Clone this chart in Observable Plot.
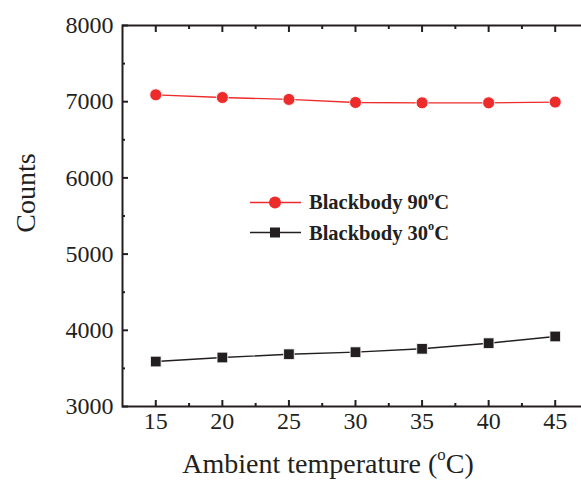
<!DOCTYPE html>
<html><head><meta charset="utf-8">
<script src="https://cdn.jsdelivr.net/npm/d3@7"></script>
<script src="https://cdn.jsdelivr.net/npm/@observablehq/plot@0.6"></script>
<style>
body{margin:0;background:#fff}
#wrap{position:relative;width:581px;height:480px;overflow:hidden;font-family:"Liberation Serif","Times New Roman",serif;color:#231f20}
#chart{position:absolute;left:0;top:0;width:600px}
#chart svg{max-width:none}
.ylab{position:absolute;left:26px;top:193px;transform:translate(-50%,-50%) rotate(-90deg);font-size:28px;white-space:nowrap}
.xlab{position:absolute;left:328px;top:464px;transform:translate(-50%,-50%);font-size:28px;white-space:nowrap}
sup{font-size:0.6em;vertical-align:0;position:relative;top:-0.75em}
.leg{position:absolute;left:250px;font-weight:bold;font-size:20.5px;white-space:nowrap;display:flex;align-items:center;transform:translateY(-50%)}
.leg svg{margin-right:8px}
</style></head><body>
<div id="wrap"><div id="chart"></div>
<div class="ylab">Counts</div>
<div class="xlab">Ambient temperature (<sup>o</sup>C)</div>
</div>
<script>
const temperatures = [15, 20, 25, 30, 35, 40, 45];
const counts90 = [7090, 7055, 7030, 6990, 6985, 6985, 6995];
const counts30 = [3590, 3643, 3686, 3713, 3757, 3831, 3919];
const seriesNames = ["Blackbody 90", "Blackbody 30"];
const seriesColors = ["#ee2b2b", "#231f20"];
const seriesSymbols = ["circle", "square"];
const xTicks = [15, 20, 25, 30, 35, 40, 45];
const xMinor = [17.5, 22.5, 27.5, 32.5, 37.5, 42.5];
const yTicks = [3000, 4000, 5000, 6000, 7000, 8000];
const yMinor = [3500, 4500, 5500, 6500, 7500];

const seriesValues = [counts90, counts30];
const data = seriesValues.flatMap((vals, i) => vals.map((v, j) => ({t: temperatures[j], c: v, s: i})));

const tickMark = (fn, anchor, ticks, size) =>
  fn({anchor, ticks, tickSize: size, fill: "none", label: null, stroke: "#231f20", strokeWidth: 2,
      ...(anchor === "bottom" ? {dy: -size} : anchor === "top" ? {dy: size} : anchor === "left" ? {dx: size} : {dx: -size})});

const marks = [];
seriesValues.forEach((vals, i) => {
  const d = data.filter(r => r.s === i);
  marks.push(Plot.line(d, {x: "t", y: "c", stroke: seriesColors[i], strokeWidth: 1.4}));
  marks.push(Plot.dot(d, {x: "t", y: "c", fill: seriesColors[i], stroke: "white", strokeWidth: 0.8, r: 6, symbol: seriesSymbols[i]}));
});
for (const a of ["bottom", "top"]) {
  marks.push(tickMark(Plot.axisX, a, xTicks, 6));
  marks.push(tickMark(Plot.axisX, a, xMinor, 3));
}
for (const a of ["left", "right"]) {
  marks.push(tickMark(Plot.axisY, a, yTicks, 6));
  marks.push(tickMark(Plot.axisY, a, yMinor, 3));
}
marks.push(Plot.axisX({anchor: "bottom", ticks: xTicks, tickSize: 0, tickPadding: 5, fontSize: 24, label: null, tickFormat: d3.format("d")}));
marks.push(Plot.axisY({anchor: "left", ticks: yTicks, tickSize: 0, tickPadding: 9, fontSize: 24, label: null, tickFormat: d3.format("d")}));
marks.push(Plot.frame({stroke: "#231f20", strokeWidth: 2}));

const chart = Plot.plot({
  width: 600, height: 480,
  marginLeft: 122, marginRight: 12, marginTop: 25, marginBottom: 74,
  style: {fontFamily: "'Liberation Serif', 'Times New Roman', serif", background: "white", color: "#231f20", maxWidth: "none"},
  x: {domain: [12.5, 47.5]},
  y: {domain: [3000, 8000]},
  marks
});
document.getElementById("chart").appendChild(chart);

const wrap = d3.select("#wrap");
const legY = [202, 232.5];
seriesNames.forEach((name, i) => {
  const row = wrap.append("div").attr("class", "leg").style("top", legY[i] + "px");
  const svg = row.append("svg").attr("width", 51).attr("height", 14);
  svg.append("line").attr("x1", 0).attr("x2", 51).attr("y1", 7).attr("y2", 7).attr("stroke", seriesColors[i]).attr("stroke-width", 1.4);
  if (seriesSymbols[i] === "circle") svg.append("circle").attr("cx", 25).attr("cy", 7).attr("r", 6).attr("fill", seriesColors[i]);
  else svg.append("rect").attr("x", 20).attr("y", 2).attr("width", 10).attr("height", 10).attr("fill", seriesColors[i]);
  row.append("span").html(name + "<sup>o</sup>C");
});
</script>
</body></html>
